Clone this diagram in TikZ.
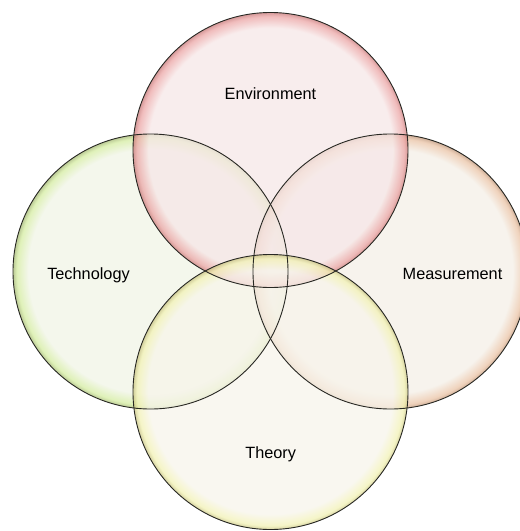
\documentclass[tikz,border=0pt]{standalone}
\usepackage{fontspec}
\setmainfont{Liberation Sans}
\definecolor{Ein}{RGB}{246,231,231}
\definecolor{Eglow}{RGB}{235,165,165}
\definecolor{Eedge}{RGB}{200,120,120}
\definecolor{Tin}{RGB}{240,244,230}
\definecolor{Tglow}{RGB}{212,236,160}
\definecolor{Tedge}{RGB}{165,185,115}
\definecolor{Min}{RGB}{244,239,231}
\definecolor{Mglow}{RGB}{234,195,165}
\definecolor{Medge}{RGB}{190,148,118}
\definecolor{Hin}{RGB}{247,244,235}
\definecolor{Hglow}{RGB}{242,242,180}
\definecolor{Hedge}{RGB}{200,195,130}
\definecolor{outline}{RGB}{40,40,35}
\pgfdeclareradialshading{shE}{\pgfpoint{0bp}{0bp}}{color(0bp)=(Ein); color(22.2bp)=(Ein); color(24.3bp)=(Eglow); color(25bp)=(Eedge); color(50bp)=(Eedge)}
\pgfdeclareradialshading{shT}{\pgfpoint{0bp}{0bp}}{color(0bp)=(Tin); color(22.2bp)=(Tin); color(24.3bp)=(Tglow); color(25bp)=(Tedge); color(50bp)=(Tedge)}
\pgfdeclareradialshading{shM}{\pgfpoint{0bp}{0bp}}{color(0bp)=(Min); color(22.2bp)=(Min); color(24.3bp)=(Mglow); color(25bp)=(Medge); color(50bp)=(Medge)}
\pgfdeclareradialshading{shH}{\pgfpoint{0bp}{0bp}}{color(0bp)=(Hin); color(22.2bp)=(Hin); color(24.3bp)=(Hglow); color(25bp)=(Hedge); color(50bp)=(Hedge)}
\tikzset{
  setcircle/.style={circle, inner sep=0pt, minimum size=275pt, shade, shading=#1,
    fill opacity=0.75},
  setrim/.style={draw=outline, line width=0.9pt},
  setlabel/.style={inner sep=0pt, anchor=base, text=black,
    font=\fontsize{16.3}{19}\selectfont}
}
\begin{document}
\begin{tikzpicture}[x=1pt, y=-1pt]
\useasboundingbox (0,0) rectangle (520,531);
\clip (0,0) rectangle (520,531);
\node[setcircle=shT] (tech) at (150.5,271.5) {};
\node[setcircle=shM] (meas) at (390.5,271.5) {};
\node[setcircle=shE] (env) at (270.5,150) {};
\node[setcircle=shH] (theo) at (270.5,392) {};
\foreach \c in {tech,meas,env,theo}
  \draw[setrim] (\c.center) circle [radius=137.5pt];
\node[setlabel] (envlab) at (270.5,99.3) {Environment};
\node[setlabel] (techlab) at (88.5,279.3) {Technology};
\node[setlabel] (measlab) at (452.5,279.3) {Measurement};
\node[setlabel] (theolab) at (270.7,458) {Theory};
\end{tikzpicture}
\end{document}
